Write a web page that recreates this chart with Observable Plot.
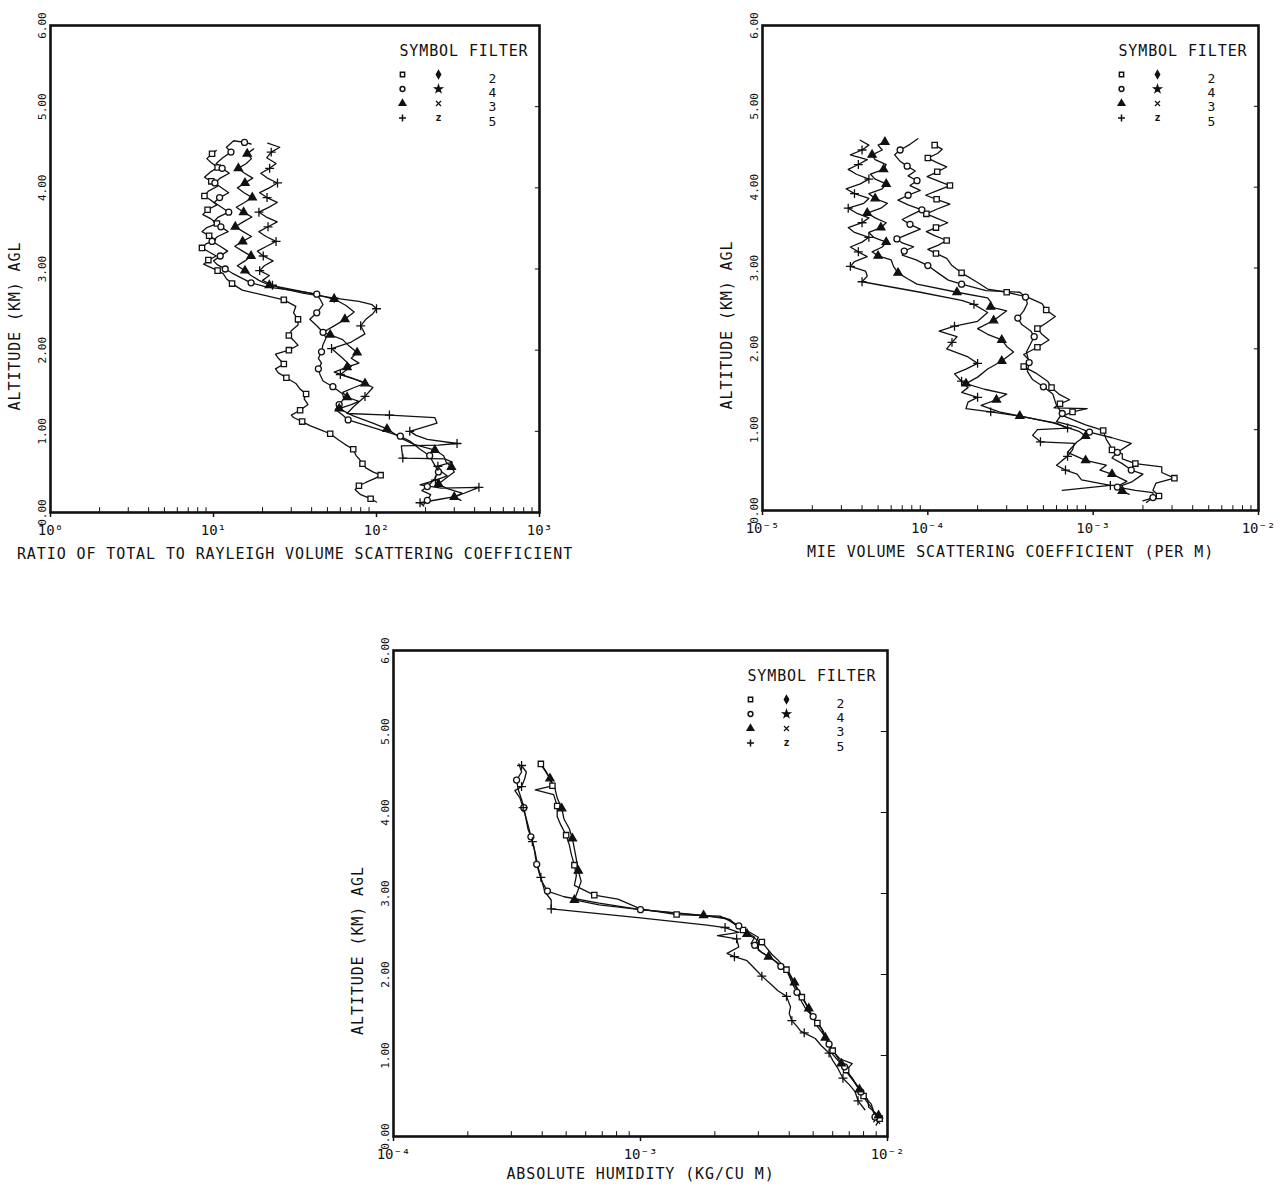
<!DOCTYPE html>
<html><head><meta charset="utf-8">
<script src="https://cdn.jsdelivr.net/npm/d3@7"></script>
<script src="https://cdn.jsdelivr.net/npm/@observablehq/plot@0.6"></script>
<style>
body{margin:0;background:#fff;}
#wrap{position:relative;width:1285px;height:1188px;background:#fff;overflow:hidden;}
.panel{position:absolute;}
</style></head><body><div id="wrap"></div>
<script>
// ---------- axis ticks / labels ----------
const altTicks = [0,1,2,3,4,5,6];
const altTickLabels = ["0.00","1.00","2.00","3.00","4.00","5.00","6.00"];
const ratioTicks = [1,10,100,1000];
const ratioTickLabels = ["10\u2070","10\u00b9","10\u00b2","10\u00b3"];
const mieTicks = [1e-5,1e-4,1e-3,1e-2];
const mieTickLabels = ["10\u207b\u2075","10\u207b\u2074","10\u207b\u00b3","10\u207b\u00b2"];
const humTicks = [1e-4,1e-3,1e-2];
const humTickLabels = ["10\u207b\u2074","10\u207b\u00b3","10\u207b\u00b2"];
const yTitle = "ALTITUDE (KM) AGL";
const ratioTitle = "RATIO OF TOTAL TO RAYLEIGH VOLUME SCATTERING COEFFICIENT";
const mieTitle = "MIE VOLUME SCATTERING COEFFICIENT (PER M)";
const humTitle = "ABSOLUTE HUMIDITY (KG/CU M)";
const legendTitle = "SYMBOL FILTER";
const legendFilters = ["2","4","3","5"];
const legendSymbolsA = ["square","circle","triangle","plus"];
const legendSymbolsB = ["diamond","star","times","z"];

// ---------- data: [value, altitude km] ----------
const ratioF2 = [[100,0.13],[92,0.17],[80,0.22],[74,0.28],[78,0.33],[86,0.37],[98,0.42],[106,0.46],[95,0.5],[86,0.55],[82,0.6],[79,0.65],[75,0.7],[72,0.78],[64,0.84],[58,0.9],[52,0.97],[45,1.02],[39,1.07],[35,1.12],[31,1.17],[30,1.2],[34,1.26],[38,1.33],[36,1.4],[37,1.46],[34,1.52],[32,1.59],[28,1.66],[25,1.72],[24,1.77],[27,1.83],[25,1.9],[24,1.95],[29,2.0],[33,2.06],[31,2.12],[29,2.18],[30,2.24],[33,2.31],[33,2.38],[31,2.46],[32,2.54],[27,2.62],[20,2.68],[15,2.74],[13,2.82],[12,2.88],[11.5,2.94],[10.6,2.98],[9.6,3.02],[8.7,3.06],[9.3,3.11],[10.4,3.16],[9.4,3.21],[8.5,3.26],[9.0,3.31],[10.3,3.36],[9.4,3.41],[8.5,3.46],[9.1,3.51],[10.5,3.56],[9.6,3.62],[8.6,3.67],[9.2,3.73],[10.5,3.79],[9.6,3.85],[8.8,3.9],[9.3,3.96],[10.6,4.02],[9.7,4.08],[8.8,4.13],[9.5,4.19],[10.6,4.25],[9.7,4.31],[9.1,4.36],[9.8,4.42],[10.4,4.46]];
const ratioF4 = [[195,0.1],[205,0.15],[215,0.22],[190,0.27],[205,0.32],[215,0.36],[228,0.42],[240,0.5],[233,0.55],[222,0.62],[212,0.7],[185,0.78],[160,0.88],[140,0.94],[113,1.0],[90,1.06],[67,1.14],[62,1.2],[56,1.27],[59,1.33],[63,1.4],[62,1.46],[54,1.55],[47,1.62],[45,1.7],[44,1.77],[46,1.84],[44,1.9],[46,1.98],[47,2.07],[49,2.15],[47,2.22],[43,2.3],[39,2.38],[43,2.46],[47,2.56],[45,2.63],[43,2.69],[30,2.74],[21,2.78],[17,2.83],[14.5,2.9],[13,2.95],[11.8,3.0],[10.6,3.05],[10.0,3.1],[11.0,3.16],[12.2,3.22],[11.0,3.28],[9.8,3.34],[10.6,3.4],[12.3,3.46],[11.1,3.52],[10.0,3.58],[10.7,3.64],[12.4,3.7],[11.2,3.76],[10.1,3.82],[10.9,3.88],[12.4,3.94],[11.2,4.0],[10.2,4.06],[11.0,4.12],[12.5,4.18],[11.3,4.24],[10.4,4.3],[11.4,4.37],[12.8,4.44],[12.0,4.5],[13.3,4.58],[15.5,4.56],[17,4.54]];
const ratioF3 = [[330,0.15],[300,0.19],[335,0.24],[275,0.29],[240,0.35],[265,0.42],[300,0.5],[288,0.56],[268,0.62],[258,0.7],[228,0.77],[170,0.84],[140,0.92],[116,1.03],[95,1.1],[72,1.19],[59,1.28],[70,1.33],[78,1.37],[66,1.42],[62,1.48],[73,1.54],[85,1.59],[70,1.66],[55,1.73],[66,1.79],[78,1.84],[70,1.9],[76,1.97],[68,2.05],[62,2.13],[52,2.19],[47,2.22],[55,2.3],[64,2.38],[73,2.47],[65,2.55],[55,2.63],[40,2.7],[28,2.76],[22,2.8],[19,2.86],[17,2.92],[15.6,2.98],[14.0,3.04],[15.6,3.1],[17.0,3.16],[15.1,3.22],[13.5,3.28],[15.1,3.34],[17.1,3.4],[15.2,3.46],[13.6,3.52],[15.2,3.58],[17.2,3.64],[15.3,3.7],[13.8,3.76],[15.5,3.82],[17.3,3.88],[15.4,3.94],[14.0,4.0],[15.6,4.06],[17.4,4.12],[15.5,4.18],[14.2,4.24],[15.9,4.3],[17.1,4.36],[16.1,4.42],[17.6,4.48]];
const ratioF5 = [[195,0.08],[185,0.12],[240,0.16],[310,0.2],[425,0.31],[250,0.3],[185,0.34],[230,0.4],[272,0.45],[252,0.5],[238,0.57],[292,0.62],[262,0.66],[145,0.67],[142,0.82],[240,0.83],[312,0.85],[205,0.9],[175,0.95],[160,1.0],[235,1.1],[228,1.17],[120,1.2],[66,1.22],[72,1.3],[85,1.43],[95,1.54],[80,1.62],[60,1.7],[70,1.8],[62,1.9],[53,2.02],[70,2.1],[85,2.2],[80,2.3],[86,2.38],[95,2.45],[100,2.51],[94,2.56],[78,2.6],[55,2.64],[36,2.7],[26,2.76],[23,2.8],[20,2.86],[22,2.92],[19.2,2.98],[20.5,3.04],[23.2,3.1],[20.2,3.16],[18.6,3.22],[21.2,3.28],[24.2,3.34],[21.0,3.4],[19.0,3.46],[21.6,3.52],[24.6,3.58],[21.1,3.64],[19.0,3.7],[21.8,3.76],[24.6,3.82],[21.3,3.88],[19.2,3.94],[22.0,4.0],[24.7,4.06],[21.4,4.12],[19.5,4.18],[22.1,4.24],[24.2,4.3],[21.2,4.37],[22.6,4.44],[25.5,4.5],[21.5,4.55]];

const mieF2 = [[2.0e-3,0.12],[2.5e-3,0.18],[2.3e-3,0.25],[2.4e-3,0.34],[3.1e-3,0.4],[2.6e-3,0.47],[2.6e-3,0.54],[1.8e-3,0.58],[1.5e-3,0.64],[1.5e-3,0.7],[1.3e-3,0.75],[1.27e-3,0.8],[1.2e-3,0.88],[1.15e-3,0.99],[9e-4,1.06],[6.6e-4,1.17],[7.5e-4,1.22],[9.2e-4,1.26],[5.8e-4,1.27],[6.3e-4,1.32],[7.2e-4,1.37],[6.2e-4,1.44],[5.6e-4,1.52],[5.3e-4,1.6],[4.5e-4,1.7],[3.8e-4,1.78],[4.1e-4,1.86],[3.8e-4,1.93],[4.6e-4,2.02],[5.4e-4,2.11],[4.9e-4,2.18],[4.6e-4,2.25],[5.2e-4,2.32],[5.9e-4,2.4],[5.2e-4,2.48],[4.9e-4,2.56],[4.0e-4,2.64],[3.0e-4,2.7],[2.3e-4,2.74],[2.0e-4,2.82],[1.6e-4,2.94],[1.4e-4,3.03],[1.3e-4,3.12],[1.12e-4,3.18],[1.0e-4,3.23],[1.15e-4,3.28],[1.3e-4,3.34],[1.1e-4,3.4],[9.8e-5,3.45],[1.12e-4,3.5],[1.32e-4,3.56],[1.12e-4,3.62],[9.8e-5,3.67],[1.14e-4,3.73],[1.36e-4,3.79],[1.13e-4,3.85],[9.7e-5,3.9],[1.15e-4,3.96],[1.36e-4,4.02],[1.14e-4,4.08],[9.9e-5,4.13],[1.14e-4,4.19],[1.3e-4,4.25],[1.12e-4,4.31],[1.0e-4,4.36],[1.15e-4,4.42],[1.22e-4,4.47],[1.1e-4,4.52]];
const mieF4 = [[2.1e-3,0.1],[2.3e-3,0.16],[2.3e-3,0.22],[1.8e-3,0.25],[1.4e-3,0.29],[1.7e-3,0.35],[2.0e-3,0.45],[1.7e-3,0.5],[1.5e-3,0.58],[1.3e-3,0.65],[1.4e-3,0.72],[1.7e-3,0.83],[1.3e-3,0.9],[9.5e-4,0.97],[8e-4,1.03],[6e-4,1.1],[6.5e-4,1.2],[6.0e-4,1.3],[5.7e-4,1.44],[5.0e-4,1.53],[4.3e-4,1.62],[4.0e-4,1.72],[4.1e-4,1.83],[3.95e-4,1.96],[4.2e-4,2.07],[4.4e-4,2.15],[4.2e-4,2.22],[3.7e-4,2.3],[3.5e-4,2.38],[3.8e-4,2.47],[4.0e-4,2.56],[3.9e-4,2.64],[3.6e-4,2.7],[2.25e-4,2.72],[1.6e-4,2.8],[1.33e-4,2.85],[1.15e-4,2.94],[1.0e-4,3.03],[8.5e-5,3.1],[7.0e-5,3.16],[7.2e-5,3.21],[8.2e-5,3.26],[7.0e-5,3.31],[6.5e-5,3.36],[7.6e-5,3.42],[9.0e-5,3.48],[7.8e-5,3.54],[7.0e-5,3.6],[8.0e-5,3.66],[9.2e-5,3.72],[7.6e-5,3.78],[6.6e-5,3.84],[7.6e-5,3.9],[9.0e-5,3.96],[7.8e-5,4.02],[8.6e-5,4.08],[7.6e-5,4.14],[8.4e-5,4.2],[7.5e-5,4.26],[6.8e-5,4.32],[6.3e-5,4.4],[6.8e-5,4.46],[7.8e-5,4.53],[8.7e-5,4.6]];
const mieF3 = [[1.65e-3,0.2],[1.5e-3,0.24],[1.4e-3,0.3],[1.6e-3,0.36],[1.3e-3,0.45],[1.1e-3,0.5],[1.2e-3,0.56],[9e-4,0.62],[7e-4,0.72],[8e-4,0.85],[9.0e-4,0.92],[8.2e-4,0.98],[5.8e-4,1.08],[3.6e-4,1.17],[2.7e-4,1.22],[2.1e-4,1.3],[2.6e-4,1.37],[3.0e-4,1.44],[2.2e-4,1.5],[1.7e-4,1.57],[2.0e-4,1.65],[2.3e-4,1.75],[2.8e-4,1.85],[3.3e-4,1.96],[3.0e-4,2.03],[2.8e-4,2.11],[2.3e-4,2.18],[2.0e-4,2.25],[2.5e-4,2.35],[3.0e-4,2.47],[2.6e-4,2.5],[2.4e-4,2.52],[2.4e-4,2.58],[2.3e-4,2.63],[1.5e-4,2.7],[8.6e-5,2.8],[7.5e-5,2.87],[6.6e-5,2.94],[6.2e-5,3.02],[6.0e-5,3.1],[5.0e-5,3.15],[4.6e-5,3.2],[5.3e-5,3.26],[5.6e-5,3.32],[4.7e-5,3.38],[4.4e-5,3.44],[5.2e-5,3.5],[5.6e-5,3.56],[4.8e-5,3.62],[4.3e-5,3.68],[5.2e-5,3.74],[5.7e-5,3.8],[4.8e-5,3.86],[4.4e-5,3.92],[5.3e-5,3.98],[5.6e-5,4.04],[4.8e-5,4.1],[4.5e-5,4.16],[5.4e-5,4.22],[5.6e-5,4.28],[4.8e-5,4.34],[4.6e-5,4.4],[5.3e-5,4.46],[5.0e-5,4.52],[5.5e-5,4.56]];
const mieF5 = [[6.5e-4,0.25],[1.27e-3,0.31],[8.5e-4,0.38],[8e-4,0.45],[6.8e-4,0.5],[6e-4,0.56],[6.5e-4,0.62],[7e-4,0.67],[7.5e-4,0.75],[7.7e-4,0.83],[4.8e-4,0.85],[4.3e-4,0.93],[4.6e-4,1.0],[7e-4,1.02],[6.0e-4,1.08],[3.5e-4,1.17],[2.4e-4,1.22],[1.7e-4,1.26],[1.75e-4,1.34],[2.0e-4,1.4],[1.6e-4,1.46],[1.75e-4,1.52],[1.6e-4,1.6],[1.45e-4,1.69],[1.7e-4,1.75],[2.0e-4,1.82],[1.75e-4,1.9],[1.3e-4,2.0],[1.4e-4,2.08],[1.5e-4,2.15],[1.17e-4,2.22],[1.45e-4,2.28],[2.0e-4,2.34],[2.3e-4,2.45],[1.9e-4,2.55],[1.6e-4,2.6],[9e-5,2.7],[4e-5,2.83],[4.3e-5,2.9],[4.2e-5,2.96],[3.4e-5,3.02],[3.6e-5,3.08],[4.3e-5,3.14],[3.8e-5,3.2],[3.4e-5,3.26],[4.0e-5,3.32],[4.4e-5,3.38],[3.6e-5,3.44],[3.3e-5,3.5],[4.0e-5,3.56],[4.4e-5,3.62],[3.7e-5,3.68],[3.3e-5,3.74],[4.1e-5,3.8],[4.4e-5,3.86],[3.6e-5,3.92],[3.2e-5,3.98],[3.9e-5,4.04],[4.4e-5,4.1],[3.7e-5,4.16],[3.3e-5,4.22],[3.8e-5,4.28],[4.3e-5,4.34],[3.4e-5,4.4],[4.0e-5,4.46],[4.4e-5,4.52],[3.9e-5,4.58]];

const humF2 = [[9.0e-3,0.14],[9.3e-3,0.22],[8.8e-3,0.3],[8.6e-3,0.4],[8.0e-3,0.5],[7.6e-3,0.6],[7.2e-3,0.72],[6.8e-3,0.82],[7.2e-3,0.9],[6.4e-3,0.96],[6.0e-3,1.06],[5.7e-3,1.18],[5.5e-3,1.3],[5.2e-3,1.4],[4.9e-3,1.5],[4.7e-3,1.62],[4.5e-3,1.72],[4.3e-3,1.82],[4.1e-3,1.94],[3.9e-3,2.06],[3.6e-3,2.18],[3.4e-3,2.25],[3.1e-3,2.4],[2.8e-3,2.38],[2.9e-3,2.46],[2.6e-3,2.55],[2.3e-3,2.66],[2.1e-3,2.72],[1.4e-3,2.74],[1.0e-3,2.81],[8.1e-4,2.93],[6.5e-4,2.98],[5.4e-4,3.1],[5.5e-4,3.22],[5.4e-4,3.35],[5.25e-4,3.48],[5.15e-4,3.6],[5.0e-4,3.72],[4.75e-4,3.85],[4.6e-4,3.95],[4.6e-4,4.08],[4.45e-4,4.22],[3.75e-4,4.28],[4.4e-4,4.33],[4.25e-4,4.45],[4.1e-4,4.53],[3.95e-4,4.6]];
const humF4 = [[9.3e-3,0.16],[8.9e-3,0.24],[8.7e-3,0.34],[8.2e-3,0.44],[7.8e-3,0.55],[7.5e-3,0.64],[7.0e-3,0.76],[6.7e-3,0.86],[6.3e-3,0.94],[5.9e-3,1.04],[5.8e-3,1.14],[5.5e-3,1.26],[5.2e-3,1.36],[5.0e-3,1.48],[4.7e-3,1.56],[4.5e-3,1.66],[4.3e-3,1.78],[4.1e-3,1.9],[3.95e-3,2.02],[3.7e-3,2.1],[3.4e-3,2.2],[3.1e-3,2.27],[2.9e-3,2.36],[3.0e-3,2.46],[2.7e-3,2.54],[2.5e-3,2.6],[2.2e-3,2.7],[1.36e-3,2.76],[1.0e-3,2.8],[6.8e-4,2.88],[4.9e-4,2.96],[4.2e-4,3.03],[4.0e-4,3.14],[3.9e-4,3.24],[3.8e-4,3.36],[3.75e-4,3.46],[3.7e-4,3.58],[3.6e-4,3.7],[3.5e-4,3.8],[3.45e-4,3.9],[3.37e-4,4.06],[3.3e-4,4.16],[3.2e-4,4.28],[3.15e-4,4.4],[3.3e-4,4.5],[3.22e-4,4.6]];
const humF3 = [[8.8e-3,0.18],[9.2e-3,0.26],[8.4e-3,0.36],[8.3e-3,0.46],[7.7e-3,0.58],[7.3e-3,0.68],[6.9e-3,0.78],[6.5e-3,0.9],[6.2e-3,1.0],[5.9e-3,1.1],[5.6e-3,1.22],[5.4e-3,1.34],[5.0e-3,1.46],[4.8e-3,1.58],[4.6e-3,1.68],[4.4e-3,1.78],[4.2e-3,1.9],[4.0e-3,2.02],[3.7e-3,2.12],[3.3e-3,2.22],[3.0e-3,2.3],[3.0e-3,2.42],[2.7e-3,2.5],[2.5e-3,2.58],[2.3e-3,2.68],[1.8e-3,2.73],[1.0e-3,2.8],[6.8e-4,2.86],[5.4e-4,2.92],[5.6e-4,3.05],[5.75e-4,3.15],[5.6e-4,3.28],[5.5e-4,3.42],[5.4e-4,3.55],[5.3e-4,3.68],[5.15e-4,3.8],[4.9e-4,3.92],[4.8e-4,4.05],[4.6e-4,4.18],[4.5e-4,4.3],[4.3e-4,4.42],[4.1e-4,4.52],[3.9e-4,4.62]];
const humF5 = [[8.1e-3,0.33],[7.6e-3,0.44],[7.4e-3,0.55],[7.0e-3,0.64],[6.6e-3,0.72],[6.3e-3,0.84],[6.0e-3,0.94],[5.8e-3,1.03],[5.4e-3,1.12],[5.1e-3,1.21],[4.6e-3,1.28],[4.45e-3,1.3],[4.3e-3,1.36],[4.1e-3,1.43],[4.0e-3,1.52],[4.05e-3,1.6],[3.9e-3,1.73],[3.6e-3,1.8],[3.4e-3,1.87],[3.1e-3,1.98],[2.97e-3,2.04],[2.7e-3,2.17],[2.4e-3,2.22],[2.24e-3,2.26],[2.5e-3,2.34],[2.45e-3,2.44],[2.05e-3,2.48],[2.5e-3,2.52],[2.2e-3,2.58],[1.86e-3,2.61],[1.0e-3,2.7],[4.35e-4,2.81],[4.35e-4,2.92],[4.1e-4,3.02],[3.95e-4,3.2],[3.85e-4,3.32],[3.75e-4,3.5],[3.65e-4,3.64],[3.55e-4,3.78],[3.45e-4,3.92],[3.35e-4,4.06],[3.25e-4,4.18],[3.1e-4,4.27],[3.3e-4,4.32],[3.4e-4,4.42],[3.45e-4,4.5],[3.3e-4,4.58]];

// ---------- rendering ----------
const FONT = "'DejaVu Sans Mono', monospace";
const INK = "#111";
const seriesStyle = {
  "2": {symbol: "square", fill: "white"},
  "4": {symbol: "circle", fill: "white"},
  "3": {symbol: "triangle", fill: INK},
  "5": {symbol: "plus", fill: "none"}
};

function makePanel(cfg) {
  const {series, ticks, tickLabels, xTitle, box, titleOffset} = cfg;
  const mL = 60, mR = 20, mT = 30, mB = 60;
  const domain = [ticks[0], ticks[ticks.length - 1]];
  const fmtX = new Map(ticks.map((t, i) => [t, tickLabels[i]]));
  const fmtY = new Map(altTicks.map((t, i) => [t, altTickLabels[i]]));
  const minor = [];
  for (let i = 0; i < ticks.length - 1; i++) for (let k = 2; k < 10; k++) minor.push(ticks[i] * k);
  const marks = [];
  marks.push(Plot.ruleX(minor, {x: d => d, y1: 0, y2: 0.06, stroke: INK, strokeWidth: 1}));
  marks.push(Plot.ruleY(altTicks.slice(1, -1), {y: d => d, x1: domain[1] / 1.06, x2: domain[1], stroke: INK, strokeWidth: 1}));
  for (const s of series) {
    marks.push(Plot.line(s.data, {x: d => d[0], y: d => d[1], stroke: INK, strokeWidth: 1.3, strokeLinejoin: "round"}));
  }
  for (const s of series) {
    const st = seriesStyle[s.filter];
    marks.push(Plot.dot(s.data.filter((d, i) => i % 3 === 1), {
      x: d => d[0], y: d => d[1], symbol: st.symbol, r: 3, stroke: INK, fill: st.fill, strokeWidth: 1.3
    }));
  }
  // axes
  marks.push(Plot.axisX(ticks, {tickFormat: d => fmtX.get(d), tickSize: 5, tickPadding: 8, fontSize: 14, strokeWidth: 1.5, label: null}));
  marks.push(Plot.axisY(altTicks, {tickFormat: d => fmtY.get(d), tickRotate: -90, tickSize: 0, tickPadding: 5, fontSize: 11, label: null}));
  marks.push(Plot.text([xTitle], {frameAnchor: "bottom", dy: titleOffset, lineAnchor: "middle", textAnchor: "middle", fontSize: 15, fill: INK}));
  marks.push(Plot.text([yTitle], {frameAnchor: "left", dx: -35, dy: 57, rotate: -90, lineAnchor: "middle", textAnchor: "middle", fontSize: 15, fill: INK}));
  // legend
  marks.push(Plot.text([legendTitle], {frameAnchor: "top-right", dx: -11, dy: 26, textAnchor: "end", lineAnchor: "middle", fontSize: 15, fill: INK}));
  legendSymbolsA.forEach((sym, i) => {
    marks.push(Plot.dot([sym], {frameAnchor: "top-right", dx: -137, dy: 49 + i * 14.5, symbol: sym, r: 2.4, stroke: INK, fill: seriesStyle[legendFilters[i]].fill, strokeWidth: 1.5}));
  });
  legendSymbolsB.forEach((sym, i) => {
    if (sym === "z") {
      marks.push(Plot.text([sym], {frameAnchor: "top-right", dx: -101, dy: 49 + i * 14.5, textAnchor: "middle", lineAnchor: "middle", fontSize: 10, fontWeight: "bold", fill: INK}));
    } else {
      marks.push(Plot.dot([sym], {frameAnchor: "top-right", dx: -101, dy: 49 + i * 14.5, symbol: sym, r: 2.4, stroke: INK, fill: INK, strokeWidth: 1.2}));
    }
  });
  legendFilters.forEach((f, i) => {
    marks.push(Plot.text([f], {frameAnchor: "top-right", dx: -47, dy: 53 + i * 14.3, textAnchor: "middle", lineAnchor: "middle", fontSize: 13, fill: INK}));
  });
  marks.push(Plot.frame({stroke: INK, strokeWidth: 2.6}));

  const svg = Plot.plot({
    width: box.width + mL + mR,
    height: box.height + mT + mB,
    marginLeft: mL, marginRight: mR, marginTop: mT, marginBottom: mB,
    x: {type: "log", domain},
    y: {domain: [0, 6]},
    style: {fontFamily: FONT, background: "white", color: INK, overflow: "visible"},
    marks
  });
  d3.select(svg).selectAll("text").each(function () {
    if (this.textContent.length > 6) this.style.letterSpacing = "0.9px";
  });
  const div = document.createElement("div");
  div.className = "panel";
  div.style.left = (box.left - mL) + "px";
  div.style.top = (box.top - mT) + "px";
  div.appendChild(svg);
  document.getElementById("wrap").appendChild(div);
}

makePanel({
  series: [{filter: "2", data: ratioF2}, {filter: "4", data: ratioF4}, {filter: "3", data: ratioF3}, {filter: "5", data: ratioF5}],
  ticks: ratioTicks, tickLabels: ratioTickLabels, xTitle: ratioTitle, titleOffset: 42,
  box: {left: 50, top: 25, width: 489, height: 487}
});
makePanel({
  series: [{filter: "2", data: mieF2}, {filter: "4", data: mieF4}, {filter: "3", data: mieF3}, {filter: "5", data: mieF5}],
  ticks: mieTicks, tickLabels: mieTickLabels, xTitle: mieTitle, titleOffset: 42,
  box: {left: 762, top: 25, width: 496, height: 485}
});
makePanel({
  series: [{filter: "2", data: humF2}, {filter: "4", data: humF4}, {filter: "3", data: humF3}, {filter: "5", data: humF5}],
  ticks: humTicks, tickLabels: humTickLabels, xTitle: humTitle, titleOffset: 38,
  box: {left: 393, top: 650, width: 494, height: 486}
});
</script></body></html>
